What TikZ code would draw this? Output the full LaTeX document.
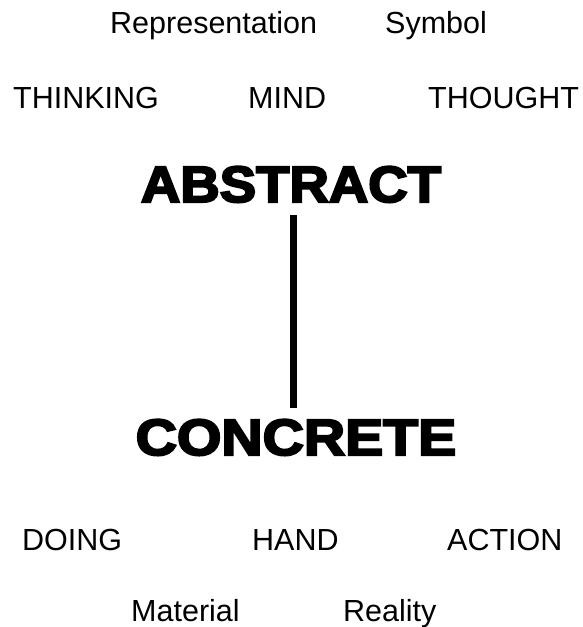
\documentclass[tikz,border=0pt]{standalone}
\usepackage{fontspec}
\usepackage{graphicx}
\setmainfont{Liberation Sans}
\newfontfamily\heavyfont[FakeBold=4]{Liberation Sans Bold}
\begin{document}
\begin{tikzpicture}[x=1pt,y=-1pt,
  word/.style={anchor=base west,inner sep=0pt,font=\fontsize{30.5}{36}\selectfont},
  bigword/.style={anchor=base,inner sep=0pt,font=\fontsize{51}{58}\heavyfont}]
\useasboundingbox (0,0) rectangle (583,627);
\node[word] (rep) at (110,33) {Representation};
\node[word] (sym) at (385,33) {Symbol};
\node[word] (think) at (13,108) {THINKING};
\node[word] (mind) at (248,108) {MIND};
\node[word] (thought) at (428,108) {THOUGHT};
\node[bigword] (abs) at (291,202) {\scalebox{1.07}[1]{ABSTRACT}};
\node[bigword] (con) at (296,455) {\scalebox{1.12}[1]{CONCRETE}};
\coordinate (ltop) at (293,215);
\coordinate (lbot) at (293,408);
\draw[line width=7pt] (ltop) -- (lbot);
\node[word] (doing) at (22,550) {DOING};
\node[word] (hand) at (252,550) {HAND};
\node[word] (action) at (447,550) {ACTION};
\node[word] (mat) at (131,621) {Material};
\node[word] (real) at (343,621) {Reality};
\end{tikzpicture}
\end{document}
